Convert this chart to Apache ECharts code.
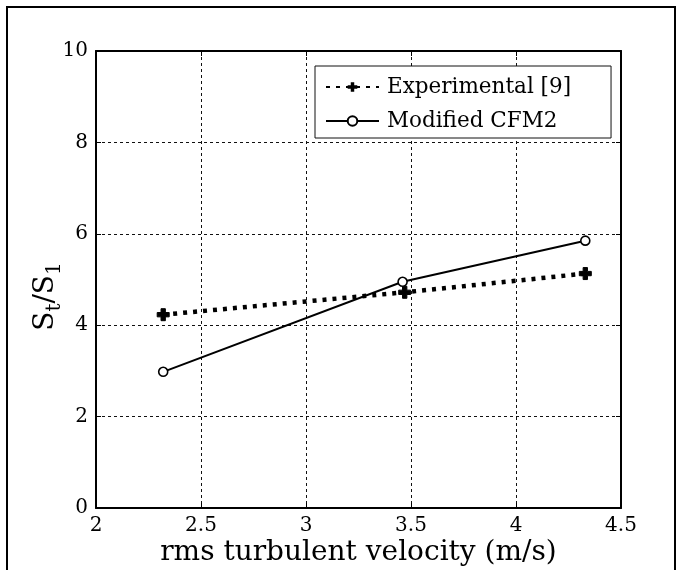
<!DOCTYPE html>
<html>
<head>
<meta charset="utf-8">
<script src="https://cdn.jsdelivr.net/npm/echarts@6/dist/echarts.min.js"></script>
<style>
html,body{margin:0;padding:0;background:#fff;}
#c{width:681px;height:570px;}
</style>
</head>
<body>
<div id="c"></div>
<script>
// Data
const velocity = [2.32, 3.47, 4.33];
const experimental = [4.23, 4.72, 5.13];
const modifiedVelocity = [2.32, 3.46, 4.33];
const modifiedCFM2 = [2.98, 4.95, 5.85];
const seriesNames = ['Experimental [9]', 'Modified CFM2'];
const xTicks = [2, 2.5, 3, 3.5, 4, 4.5];
const yTicks = [0, 2, 4, 6, 8, 10];

const FONT = '"DejaVu Serif", "Liberation Serif", serif';
const chart = echarts.init(document.getElementById('c'), null, {renderer: 'canvas'});

const gridLine = {show: true, lineStyle: {color: '#111', width: 1, type: [3, 3]}};
const plusPath = 'path://M3.2,0H6.8V3.2H10V6.8H6.8V10H3.2V6.8H0V3.2H3.2Z';

const option = {
  backgroundColor: '#fff',
  animation: false,
  grid: {left: 96, right: 60, top: 51, bottom: 62, containLabel: false, outerBoundsMode: 'none'},
  legend: {
    orient: 'vertical',
    left: 315, top: 66,
    padding: [10, 40, 6, 10],
    backgroundColor: '#fff',
    borderColor: '#111', borderWidth: 1,
    itemWidth: 53, itemHeight: 12, itemGap: 12,
    textStyle: {fontFamily: FONT, fontSize: 21.5, color: '#000', padding: [0, 0, 0, 3]},
    data: seriesNames
  },
  xAxis: [{
    type: 'value', min: xTicks[0], max: xTicks[xTicks.length - 1], interval: 0.5,
    name: 'rms turbulent velocity (m/s)', nameLocation: 'middle', nameGap: 31, nameMoveOverlap: false,
    nameTextStyle: {fontFamily: FONT, fontSize: 28, color: '#000'},
    axisLine: {show: true, onZero: false, lineStyle: {color: '#000', width: 2}},
    axisTick: {show: true, inside: true, length: 5, lineStyle: {color: '#000', width: 1}},
    axisLabel: {fontFamily: FONT, fontSize: 20, color: '#000', margin: 8},
    splitLine: gridLine
  }, {
    type: 'value', position: 'top', min: xTicks[0], max: xTicks[xTicks.length - 1], interval: 0.5,
    axisLine: {show: true, onZero: false, lineStyle: {color: '#000', width: 2}},
    axisTick: {show: true, inside: true, length: 5, lineStyle: {color: '#000', width: 1}},
    axisLabel: {show: false}, splitLine: {show: false}
  }],
  yAxis: [{
    type: 'value', min: yTicks[0], max: yTicks[yTicks.length - 1], interval: 2,
    name: '{m|S}{s|t}{m|/S}{s|1}', nameLocation: 'middle', nameGap: 31, nameRotate: 90, nameMoveOverlap: false,
    nameTextStyle: {
      fontFamily: FONT, color: '#000', padding: [0, 34, 0, 0],
      rich: {
        m: {fontFamily: FONT, fontSize: 28, lineHeight: 38, color: '#000'},
        s: {fontFamily: FONT, fontSize: 20, lineHeight: 22, verticalAlign: 'bottom', color: '#000'}
      }
    },
    axisLine: {show: true, onZero: false, lineStyle: {color: '#000', width: 2}},
    axisTick: {show: true, inside: true, length: 5, lineStyle: {color: '#000', width: 1}},
    axisLabel: {fontFamily: FONT, fontSize: 20, color: '#000', margin: 8},
    splitLine: gridLine
  }, {
    type: 'value', position: 'right', min: yTicks[0], max: yTicks[yTicks.length - 1], interval: 2,
    axisLine: {show: true, onZero: false, lineStyle: {color: '#000', width: 2}},
    axisTick: {show: true, inside: true, length: 5, lineStyle: {color: '#000', width: 1}},
    axisLabel: {show: false}, splitLine: {show: false}
  }],
  series: [{
    name: seriesNames[0], type: 'line',
    data: velocity.map((v, i) => [v, experimental[i]]),
    symbol: plusPath, symbolSize: 12,
    itemStyle: {color: '#000', borderColor: '#000'},
    lineStyle: {color: '#000', width: 4.5, type: [4, 6], cap: 'butt'},
    z: 3
  }, {
    name: seriesNames[1], type: 'line',
    data: modifiedVelocity.map((v, i) => [v, modifiedCFM2[i]]),
    symbol: 'circle', symbolSize: 9,
    itemStyle: {color: '#fff', borderColor: '#000', borderWidth: 1.6},
    lineStyle: {color: '#000', width: 2},
    z: 4
  }],
  graphic: [
    {type: 'line', shape: {x1: 6, y1: 7, x2: 676, y2: 7}, style: {stroke: '#000', lineWidth: 2}, silent: true},
    {type: 'line', shape: {x1: 7, y1: 6, x2: 7, y2: 570}, style: {stroke: '#000', lineWidth: 2}, silent: true},
    {type: 'line', shape: {x1: 675, y1: 6, x2: 675, y2: 570}, style: {stroke: '#000', lineWidth: 2}, silent: true}
  ]
};
chart.setOption(option);
</script>
</body>
</html>
